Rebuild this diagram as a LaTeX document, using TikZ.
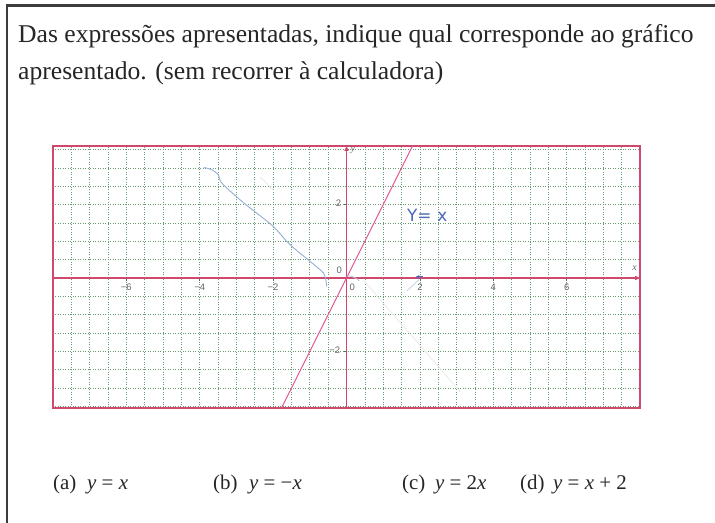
\documentclass[tikz,border=0pt]{standalone}
\usepackage{fontspec}
\setmainfont{Liberation Serif}
\newfontfamily\tickfont{Liberation Sans}
\newfontfamily\handfont{DejaVu Sans}
\usetikzlibrary{arrows.meta}
\definecolor{framered}{RGB}{208,72,108}
\definecolor{linepink}{RGB}{222,90,150}
\definecolor{gridgreen}{RGB}{105,155,115}
\definecolor{penblue}{RGB}{75,105,180}
\definecolor{pencilblue}{RGB}{150,175,215}
\definecolor{borderdark}{RGB}{60,60,60}
\begin{document}
\begin{tikzpicture}[x=1bp,y=1bp,
  qtext/.style={anchor=base west, inner sep=0, font=\fontsize{25.7}{30}\selectfont, text=black!85},
  opt/.style={anchor=base west, inner sep=0, font=\fontsize{21}{25}\selectfont, text=black!85},
  ticklab/.style={font=\tickfont\fontsize{9.5}{10}\selectfont, text=black!60, inner sep=0},
  axlab/.style={font=\fontsize{10}{11}\selectfont\itshape, text=black!60, inner sep=0},
  gridline/.style={gridgreen, line width=0.7bp, dash pattern=on 1bp off 1.5bp},
  plotframe/.style={framered, line width=1.8bp},
  axisline/.style={framered, line width=1.4bp, -{Triangle[length=5bp,width=4bp]}},
  tickmark/.style={black!60, line width=0.8bp},
]
\useasboundingbox (0,0) rectangle (715,-523);
\fill[white] (0,0) rectangle (715,-523);
\coordinate (btl) at (5.5,-6);
\coordinate (btr) at (715,-6);
\coordinate (bll) at (7,-6);
\coordinate (blb) at (7,-523);
\draw[borderdark, line width=3bp] (btl) -- (btr);
\draw[borderdark, line width=2bp] (bll) -- (blb);

\node[qtext] (q1) at (18,-43) {Das expressões apresentadas, indique qual corresponde ao gráfico};
\node[qtext] (q2) at (18,-80) {apresentado. (sem recorrer à calculadora)};

\begin{scope}[shift={(346.5,-278)}, x=36.7bp, y=36.7bp]
  \foreach \i in {-15,...,15} {\draw[gridline] (\i/2,-3.54) -- (\i/2,3.6);}
  \foreach \j in {-7,...,7} {\draw[gridline] (-8,\j/2) -- (8,\j/2);}
  \coordinate (fbl) at (-8,-3.54);
  \coordinate (ftr) at (8,3.6);
  \draw[plotframe] (fbl) rectangle (ftr);
  % faint erased traces
  \coordinate (e1a) at (0.45,-0.05); \coordinate (e1b) at (3.1,-3.1);
  \draw[black!8, line width=0.8bp] (e1a) -- (e1b);
  \coordinate (e2a) at (-2.35,2.75); \coordinate (e2b) at (-2.0,2.4);
  \draw[black!8, line width=0.8bp] (e2a) -- (e2b);
  % axes
  \coordinate (xl) at (-8,0); \coordinate (xr) at (8,0);
  \coordinate (yb) at (0,-3.54); \coordinate (yt) at (0,3.6);
  \draw[axisline] (xl) -- (xr);
  \draw[axisline] (yb) -- (yt);
  \foreach \t/\l in {-6/−6,-4/−4,-2/−2,2/2,4/4,6/6} {
    \draw[tickmark] (\t,0) -- (\t,-0.07);
    \node[ticklab] at (\t,-0.25) {\l};
  }
  \foreach \t/\l in {-2/−2,2/2} {
    \draw[tickmark] (0,\t) -- (-0.07,\t);
  }
  \node[ticklab] (l0b) at (0.16,-0.26) {0};
  \node[ticklab] (l0l) at (-0.2,0.2) {0};
  \node[ticklab] (ly2) at (-0.22,2.03) {2};
  \node[ticklab] (lym2) at (-0.32,-1.97) {−2};
  \node[axlab] (ylab) at (0.17,3.47) {y};
  \node[axlab] (xlab) at (7.85,0.28) {x};
  % line y = 2x
  \coordinate (la) at (-1.77,-3.54); \coordinate (lb) at (1.8,3.6);
  \draw[linepink, line width=1.1bp] (la) -- (lb);
  % pencil curve
  \draw[pencilblue, line width=0.9bp, line cap=round] plot[smooth] coordinates {
    (-3.88,3.01) (-3.67,2.95) (-3.49,2.81) (-3.40,2.59) (-2.90,2.13) (-2.45,1.77)
    (-2.0,1.41) (-1.54,0.91) (-0.99,0.45) (-0.63,0.14) (-0.56,-0.08) (-0.54,-0.22)};
  \coordinate (pa) at (0.02,0.06); \coordinate (pb) at (0.35,-0.08);
  \draw[pencilblue!70, line width=0.8bp] (pa) to[bend left=20] (pb);
  % handwritten label and mark
  \node[font=\handfont\fontsize{17}{18}\selectfont, text=penblue] (hand) at (2.2,1.72) {Y=\,\,x};
  \coordinate (ma) at (2.08,0.03); \coordinate (mb) at (1.88,0.03);
  \draw[penblue, line width=1bp, -{Stealth[length=4bp,width=4bp]}] (ma) -- (mb);
  \coordinate (fa) at (1.65,-0.35); \coordinate (fb) at (1.98,-0.04);
  \draw[pencilblue!60, line width=0.7bp] (fa) -- (fb);
\end{scope}

\node[opt] (oa) at (53,-489) {(a)};
\node[opt] (ea) at (87,-489) {\textit{y} = \textit{x}};
\node[opt] (ob) at (213,-489) {(b)};
\node[opt] (eb) at (249,-489) {\textit{y} = −\textit{x}};
\node[opt] (oc) at (402,-489) {(c)};
\node[opt] (ec) at (435,-489) {\textit{y} = 2\textit{x}};
\node[opt] (od) at (520,-489) {(d)};
\node[opt] (ed) at (553,-489) {\textit{y} = \textit{x} + 2};
\end{tikzpicture}
\end{document}
